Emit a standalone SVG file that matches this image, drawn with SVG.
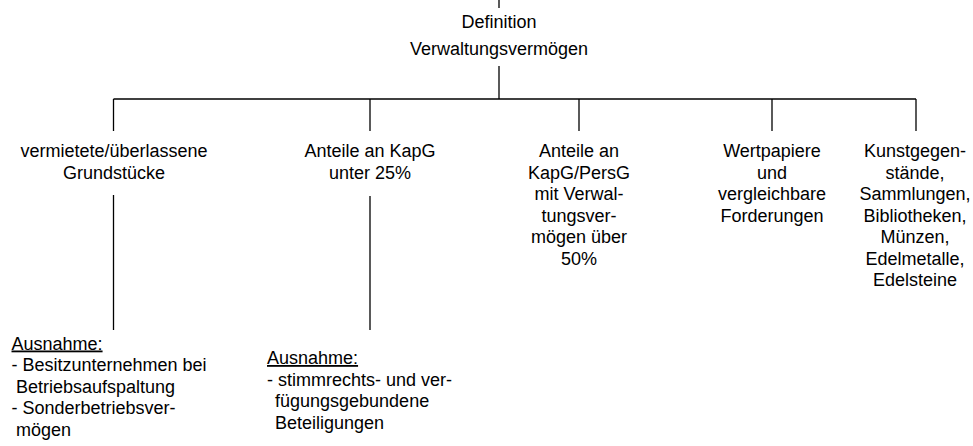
<svg xmlns="http://www.w3.org/2000/svg" width="973" height="446" viewBox="0 0 973 446">
  <style>
    text { font-family: "Liberation Sans", Arial, sans-serif; font-size: 18px; fill: #000; }
    .c { text-anchor: middle; }
    .u { text-decoration: underline; }
    .ln { stroke: #000; stroke-width: 1.3; fill: none; }
  </style>

  <!-- connectors -->
  <g id="connectors">
    <line class="ln" x1="499" y1="0" x2="499" y2="8"/>
    <line class="ln" x1="499" y1="66" x2="499" y2="99"/>
    <line class="ln" x1="113.5" y1="99" x2="916" y2="99"/>
    <line class="ln" x1="113.5" y1="99" x2="113.5" y2="131"/>
    <line class="ln" x1="370" y1="99" x2="370" y2="131"/>
    <line class="ln" x1="579" y1="99" x2="579" y2="131"/>
    <line class="ln" x1="772" y1="99" x2="772" y2="131"/>
    <line class="ln" x1="916" y1="99" x2="916" y2="131"/>
    <line class="ln" x1="113.5" y1="195" x2="113.5" y2="330"/>
    <line class="ln" x1="370" y1="196" x2="370" y2="330"/>
  </g>

  <!-- root -->
  <g id="root">
    <text class="c" x="499" y="28">Definition</text>
    <text class="c" x="499" y="55">Verwaltungsvermögen</text>
  </g>

  <!-- categories -->
  <g id="grundstuecke">
    <text class="c" x="114" y="157">vermietete/überlassene</text>
    <text class="c" x="114" y="178.5">Grundstücke</text>
  </g>
  <g id="anteile-kapg">
    <text class="c" x="370" y="157">Anteile an KapG</text>
    <text class="c" x="370" y="178.5">unter 25%</text>
  </g>
  <g id="anteile-persg">
    <text class="c" x="579" y="157">Anteile an</text>
    <text class="c" x="579" y="178.5">KapG/PersG</text>
    <text class="c" x="579" y="200">mit Verwal-</text>
    <text class="c" x="579" y="221.5">tungsver-</text>
    <text class="c" x="579" y="243">mögen über</text>
    <text class="c" x="579" y="264.5">50%</text>
  </g>
  <g id="wertpapiere">
    <text class="c" x="772" y="157">Wertpapiere</text>
    <text class="c" x="772" y="178.5">und</text>
    <text class="c" x="772" y="200">vergleichbare</text>
    <text class="c" x="772" y="221.5">Forderungen</text>
  </g>
  <g id="kunst">
    <text class="c" x="915" y="157">Kunstgegen-</text>
    <text class="c" x="915" y="178.5">stände,</text>
    <text class="c" x="915" y="200">Sammlungen,</text>
    <text class="c" x="915" y="221.5">Bibliotheken,</text>
    <text class="c" x="915" y="243">Münzen,</text>
    <text class="c" x="915" y="264.5">Edelmetalle,</text>
    <text class="c" x="915" y="286">Edelsteine</text>
  </g>

  <!-- exceptions -->
  <g id="ausnahme-grundstuecke">
    <text x="11.5" y="349.5" class="u">Ausnahme:</text>
    <text x="11.5" y="371">- Besitzunternehmen bei</text>
    <text x="16" y="392.5">Betriebsaufspaltung</text>
    <text x="11.5" y="414">- Sonderbetriebsver-</text>
    <text x="16" y="435.5">mögen</text>
  </g>
  <g id="ausnahme-anteile">
    <text x="267" y="364" class="u">Ausnahme:</text>
    <text x="267" y="385.5">- stimmrechts- und ver-</text>
    <text x="275" y="407">fügungsgebundene</text>
    <text x="275" y="428.5">Beteiligungen</text>
  </g>
</svg>
